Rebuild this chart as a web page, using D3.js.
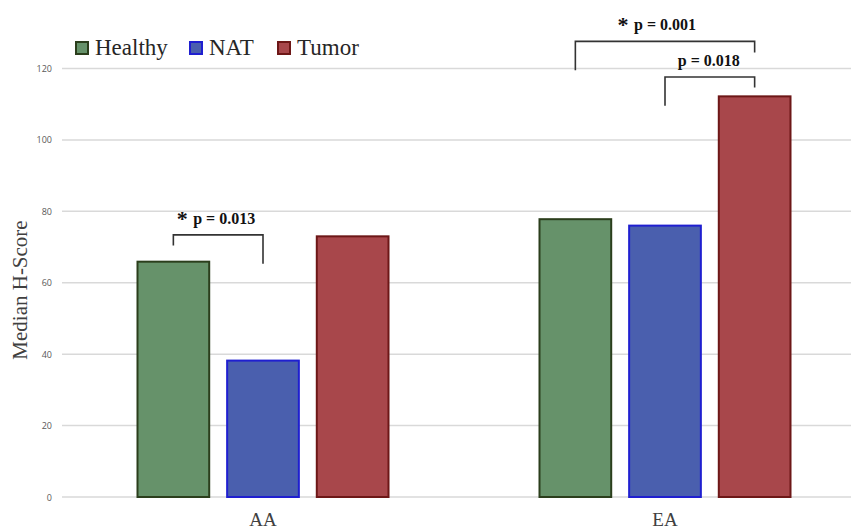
<!DOCTYPE html>
<html><head><meta charset="utf-8">
<script src="https://cdn.jsdelivr.net/npm/d3@7/dist/d3.min.js"></script>
<style>body{margin:0;background:#fff}</style>
</head><body>
<svg id="c" width="851" height="532"></svg>
<script>
const categories = ["AA", "EA"];
const series = ["Healthy", "NAT", "Tumor"];
const healthy = [65.9, 77.8];
const nat = [38.2, 76.0];
const tumor = [73.0, 112.2];
const yTicks = [0, 20, 40, 60, 80, 100, 120];
// significance annotations: [category, from series, to series, label, star, top value, left-leg end, right-leg end]
const annotations = [
  ["AA", "Healthy", "NAT", "p = 0.013", true, 73.4, 70.4, 65.3],
  ["EA", "Healthy", "Tumor", "p = 0.001", true, 127.6, 119.5, 124.5],
  ["EA", "NAT", "Tumor", "p = 0.018", false, 117.6, 109.6, 114.7]
];

const fills = {Healthy: "#66926a", NAT: "#4a5fae", Tumor: "#a8474b"};
const strokes = {Healthy: "#2b3e1c", NAT: "#1f1fd0", Tumor: "#6d1717"};
const values = {Healthy: healthy, NAT: nat, Tumor: tumor};
const serif = "'Liberation Serif', 'Times New Roman', Times, serif";

const svg = d3.select("#c");
const x0 = d3.scaleBand().domain(categories).range([62, 866]).paddingOuter(0).paddingInner(0);
const groupW = 251;
const x1 = d3.scaleBand().domain(series).range([-groupW/2, groupW/2]).paddingInner(0.2).paddingOuter(0);
const y = d3.scaleLinear().domain([0, 120]).range([497, 68.5]);

// gridlines
svg.append("g").selectAll("line").data(yTicks).join("line")
  .attr("x1", 62).attr("x2", 851)
  .attr("y1", d => y(d)).attr("y2", d => y(d))
  .attr("stroke", "#d9d9d9").attr("stroke-width", 1.5);

// y tick labels
svg.append("g").selectAll("text").data(yTicks).join("text")
  .attr("x", 52).attr("y", d => y(d) + 3.5)
  .attr("text-anchor", "end")
  .attr("font-family", "Open Sans, sans-serif").attr("font-size", 9).attr("fill", "#595959")
  .text(d => d);

// bars
const data = [];
categories.forEach((c, i) => series.forEach(s => data.push({c, s, v: values[s][i]})));
const cx = (c, s) => x0(c) + x0.bandwidth()/2 + x1(s);
svg.append("g").selectAll("rect").data(data).join("rect")
  .attr("x", d => cx(d.c, d.s))
  .attr("y", d => y(d.v))
  .attr("width", x1.bandwidth())
  .attr("height", d => y(0) - y(d.v))
  .attr("fill", d => fills[d.s])
  .attr("stroke", d => strokes[d.s])
  .attr("stroke-width", 2);

// category labels
svg.append("g").selectAll("text").data(categories).join("text")
  .attr("x", d => x0(d) + x0.bandwidth()/2)
  .attr("y", 526)
  .attr("text-anchor", "middle")
  .attr("font-family", serif).attr("font-size", 19).attr("fill", "#404040")
  .text(d => d);

// y axis title
svg.append("text")
  .attr("transform", "translate(27,290) rotate(-90)")
  .attr("text-anchor", "middle")
  .attr("font-family", serif).attr("font-size", 21).attr("fill", "#404040")
  .text("Median H-Score");

// legend
const legX = [76, 190, 278];
const leg = svg.append("g").selectAll("g").data(series).join("g")
  .attr("transform", (d, i) => `translate(${legX[i]},42)`);
leg.append("rect").attr("width", 12).attr("height", 12)
  .attr("fill", d => fills[d]).attr("stroke", d => strokes[d]).attr("stroke-width", 2);
leg.append("text").attr("x", 19).attr("y", 13)
  .attr("font-family", serif).attr("font-size", 23).attr("fill", "#262626")
  .text(d => d);

// annotations
const mid = (c, s) => cx(c, s) + x1.bandwidth()/2;
const ann = svg.append("g");
annotations.forEach(a => {
  const [c, s1, s2, label, star, top, lEnd, rEnd] = a;
  const xl = mid(c, s1), xr = mid(c, s2);
  ann.append("path")
    .attr("d", `M${xl},${y(lEnd)}V${y(top)}H${xr}V${y(rEnd)}`)
    .attr("fill", "none").attr("stroke", "#333").attr("stroke-width", 1.6);
  const tx = (xl + xr) / 2 + (c === "AA" ? 6 : 0) + (star ? 0 : -1);
  const t = ann.append("text")
    .attr("x", tx).attr("y", y(top) - 11)
    .attr("text-anchor", "middle")
    .attr("font-family", serif).attr("font-weight", "bold")
    .attr("font-size", 16).attr("fill", "#111")
    .text(label);
  if (star) {
    const w = t.node().getComputedTextLength();
    ann.append("text")
      .attr("x", tx - w/2 - 11).attr("y", y(top) - 9)
      .attr("text-anchor", "middle")
      .attr("font-family", serif).attr("font-weight", "bold")
      .attr("font-size", 22).attr("fill", "#111")
      .text("*");
  }
});
</script>
</body></html>
